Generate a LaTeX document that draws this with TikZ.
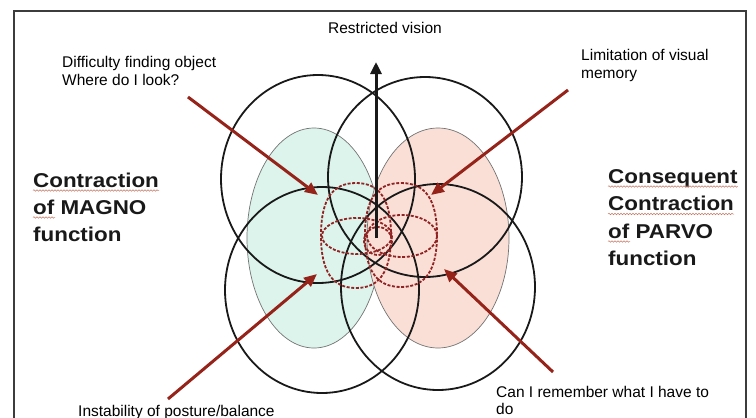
\documentclass[tikz,border=0pt]{standalone}
\usepackage{fontspec}
\setmainfont{Liberation Sans}
\newfontfamily\boldwide[FakeStretch=1.12]{Liberation Sans}
\usetikzlibrary{arrows.meta,decorations.pathmorphing}
\definecolor{greenfill}{RGB}{220,244,235}
\definecolor{pinkfill}{RGB}{249,223,214}
\definecolor{arrowred}{RGB}{150,35,25}
\definecolor{dashred}{RGB}{145,35,35}
\definecolor{squigred}{RGB}{200,120,100}
\definecolor{framegray}{RGB}{60,60,60}
% rounded (squircle-like) closed curve: centre x, centre y, x radius, y radius
\newcommand{\mysqshape}[5][]{%
  \draw[#1] (#2+#4,#3) .. controls (#2+#4,#3+0.68*#5) and (#2+0.68*#4,#3+#5) .. (#2,#3+#5)
    .. controls (#2-0.68*#4,#3+#5) and (#2-#4,#3+0.68*#5) .. (#2-#4,#3)
    .. controls (#2-#4,#3-0.68*#5) and (#2-0.68*#4,#3-#5) .. (#2,#3-#5)
    .. controls (#2+0.68*#4,#3-#5) and (#2+#4,#3-0.68*#5) .. cycle;}
\begin{document}
\begin{tikzpicture}[x=1pt,y=-1pt,
  small/.style={font=\fontsize{15.5}{18}\selectfont, inner sep=0pt, anchor=base west},
  big/.style={font=\boldwide\bfseries\fontsize{20}{27}\selectfont, inner sep=0pt, anchor=base west, text=black!90},
  ring/.style={draw=black!90, line width=1.8pt},
  fld/.style={draw=black!55, line width=0.7pt},
  redring/.style={draw=dashred, line width=1.8pt, dash pattern=on 3pt off 1.6pt},
  redarrow/.style={draw=arrowred, line width=3pt, -{Triangle[length=13pt,width=11pt]}},
  squig/.style={draw=squigred, line width=0.5pt, decorate, decoration={snake,amplitude=0.8pt,segment length=3pt}}]
\useasboundingbox (0,0) rectangle (756,418);
% frame
\draw[framegray, line width=1.2pt] (14,418) -- (14,11) -- (746,11) -- (746,418);
% coloured fields
\draw[fld, fill=greenfill] (314,238) ellipse [x radius=67, y radius=110];
\draw[fld, fill=pinkfill] (438,238) ellipse [x radius=71, y radius=110];
% black rings
\draw[ring] (318,179) ellipse [x radius=97, y radius=104];
\draw[ring] (425,177) ellipse [x radius=97, y radius=100];
\draw[ring] (322,290) ellipse [x radius=97, y radius=103];
\draw[ring] (438,287) ellipse [x radius=97, y radius=103];
% red dashed rings
\mysqshape[redring]{356}{235.5}{35}{52.5}
\mysqshape[redring]{401}{235}{36}{52}
\draw[redring] (357,236) ellipse [x radius=35, y radius=18];
\draw[redring] (402,236) ellipse [x radius=35, y radius=21];
\draw[redring] (378,241) circle [radius=14];
% coordinates for arrows
\coordinate (vs) at (376,238);
\coordinate (vt) at (376,62);
\coordinate (a1s) at (188,97);  \coordinate (a1t) at (318,195);
\coordinate (a2s) at (568,90);  \coordinate (a2t) at (431,195);
\coordinate (a3s) at (168,399); \coordinate (a3t) at (317,274);
\coordinate (a4s) at (553,372); \coordinate (a4t) at (444,269);
\draw[black!90, line width=3pt, -{Triangle[length=12pt,width=11pt]}] (vs) -- (vt);
\draw[redarrow] (a1s) -- (a1t);
\draw[redarrow] (a2s) -- (a2t);
\draw[redarrow] (a3s) -- (a3t);
\draw[redarrow] (a4s) -- (a4t);
% small labels
\node[small, anchor=base] (rv) at (385,33) {Restricted vision};
\node[small] (df1) at (62,67) {Difficulty finding object};
\node[small] (df2) at (62,85) {Where do I look?};
\node[small] (lv1) at (581,60) {Limitation of visual};
\node[small] (lv2) at (581,78) {memory};
\node[small] (ip) at (78,416) {Instability of posture/balance};
\node[small] (cr1) at (496,397) {Can I remember what I have to};
\node[small] (cr2) at (496,414) {do};
% big labels
\node[big] (m1) at (33,187) {Contraction};
\node[big] (m2) at (33,214) {of MAGNO};
\node[big] (m3) at (33,241) {function};
\node[big] (p1) at (608,183) {Consequent};
\node[big] (p2) at (608,210.5) {Contraction};
\node[big] (p3) at (608,238) {of PARVO};
\node[big] (p4) at (608,265.5) {function};
% spell-check underlines
\draw[squig] ([yshift=-3.5pt]m1.base west) -- ([yshift=-3.5pt]m1.base east);
\draw[squig] ([yshift=-3.5pt]m2.base west) -- ([yshift=-3.5pt,xshift=22pt]m2.base west);
\draw[squig] ([yshift=-3.5pt]p1.base west) -- ([yshift=-3.5pt]p1.base east);
\draw[squig] ([yshift=-3.5pt]p2.base west) -- ([yshift=-3.5pt]p2.base east);
\draw[squig] ([yshift=-3.5pt]p3.base west) -- ([yshift=-3.5pt,xshift=22pt]p3.base west);
\end{tikzpicture}
\end{document}
